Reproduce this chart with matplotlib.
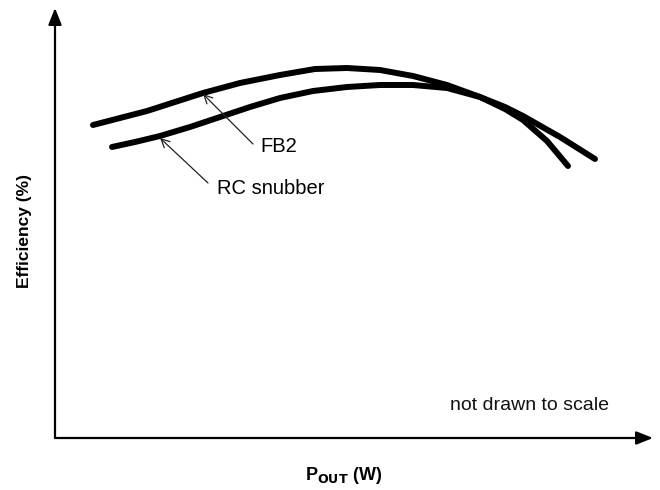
import matplotlib
matplotlib.use("Agg")
import matplotlib.pyplot as plt

plt.rcParams["font.family"] = ["Liberation Sans", "DejaVu Sans"]

# ==============================================================
#  Data (arbitrary units)
# ==============================================================
fb2_pout = [38, 65, 92, 120, 148, 185, 225, 260, 292, 325, 358, 392, 425,
            450, 468, 492, 513]
fb2_eff = [313, 320, 327, 336, 345, 355, 363, 369, 370, 368, 362, 353, 341,
           329, 318, 297, 272]

rc_pout = [57, 80, 105, 135, 168, 195, 225, 258, 292, 325, 358, 392, 425,
           450, 468, 505, 540]
rc_eff = [291, 296, 302, 311, 322, 331, 340, 347, 351, 353, 353, 350, 341,
          331, 322, 301, 279]

x_max, y_max = 598, 430

# ==============================================================
#  Figure
# ==============================================================
fig = plt.figure(figsize=(6.6, 4.9), dpi=100)
ax = fig.add_axes([55 / 660, 52 / 490, x_max / 660, y_max / 490])
ax.set_xlim(0, x_max)
ax.set_ylim(0, y_max)
ax.axis("off")

# axes with arrow heads
axis_arrow = dict(arrowstyle="-|>,head_length=1.0,head_width=0.4", lw=1.6,
                  color="black", shrinkA=0, shrinkB=0)
ax.annotate("", xy=(x_max, 0), xytext=(0, 0), arrowprops=axis_arrow,
            annotation_clip=False)
ax.annotate("", xy=(0, y_max), xytext=(0, 0), arrowprops=axis_arrow,
            annotation_clip=False)

# curves
for xs, ys in ((fb2_pout, fb2_eff), (rc_pout, rc_eff)):
    ax.plot(xs, ys, color="black", lw=4.3, solid_capstyle="round",
            solid_joinstyle="round", clip_on=False)

# labels with pointer arrows
pointer = dict(arrowstyle="->,head_length=0.6,head_width=0.3", lw=0.9,
               color="#222222", shrinkA=0, shrinkB=0)
ax.annotate("", xy=(148, 344), xytext=(198, 294), arrowprops=pointer)
ax.text(205, 291, "FB2", fontsize=14.5, va="center", ha="left")
ax.annotate("", xy=(105, 300), xytext=(153, 255), arrowprops=pointer)
ax.text(162, 249, "RC snubber", fontsize=14.5, va="center", ha="left")

ax.text(395, 33, "not drawn to scale", fontsize=14, va="center", ha="left",
        color="#111111")

fig.text(25 / 660, 1 - 231 / 490, "Efficiency (%)", rotation=90,
         fontsize=12.5, fontweight="bold", ha="center", va="center")
fig.text(344 / 660, 1 - 475 / 490, r"P$_{\mathbf{OUT}}$ (W)", fontsize=13,
         fontweight="bold", ha="center", va="center")

fig.savefig("out.png", dpi=100)
